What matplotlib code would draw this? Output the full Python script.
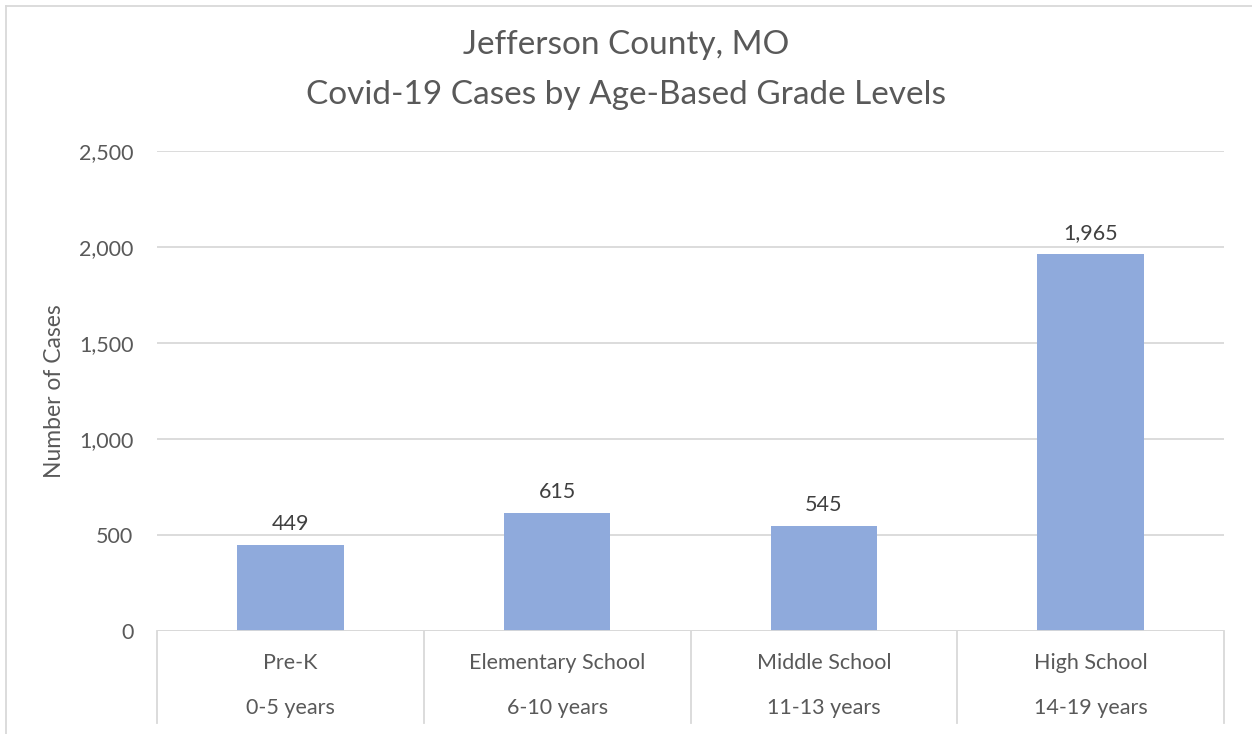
import matplotlib
matplotlib.use("Agg")
import matplotlib.pyplot as plt
import matplotlib.transforms as mtransforms
from matplotlib.lines import Line2D

# data
grades = ["Pre-K", "Elementary School", "Middle School", "High School"]
ages = ["0-5 years", "6-10 years", "11-13 years", "14-19 years"]
cases = [449, 615, 545, 1965]
y_ticks = [0, 500, 1000, 1500, 2000, 2500]

BAR_COLOR = "#8FAADC"
TEXT_COLOR = "#595959"
GRID_COLOR = "#D9D9D9"
FS = 15.5

plt.rcParams["font.family"] = ["Lato", "DejaVu Sans"]

W, H = 1252, 734
fig = plt.figure(figsize=(W / 100, H / 100), dpi=100)
ax = fig.add_axes([157 / W, 1 - 631 / H, (1224 - 157) / W, (631 - 151) / H])

x = list(range(len(grades)))
ax.bar(x, cases, width=0.4, color=BAR_COLOR, zorder=3)
for xi, v in zip(x, cases):
    ax.annotate(f"{v:,}", (xi, v), textcoords="offset points", xytext=(0, 8),
                ha="center", va="bottom", fontsize=FS, color="#404040")

ax.set_xlim(-0.5, len(grades) - 0.5)
ax.set_ylim(0, 2500)
ax.set_yticks(y_ticks)
ax.set_yticklabels([f"{t:,}" for t in y_ticks])
ax.tick_params(axis="y", length=0, pad=17, labelsize=FS, labelcolor=TEXT_COLOR)
ax.set_xticks([])
ax.grid(axis="y", color=GRID_COLOR, linewidth=1.3, zorder=0)
for s in ax.spines.values():
    s.set_visible(False)
ax.axhline(0, color=GRID_COLOR, linewidth=1.3, zorder=4)

ax.set_ylabel("Number of Cases", fontsize=16.5, color=TEXT_COLOR, labelpad=10)

# two-level category axis
trans = mtransforms.blended_transform_factory(ax.transData, ax.transAxes)
for b in [i - 0.5 for i in range(len(grades) + 1)]:
    ax.add_line(Line2D([b, b], [0, -0.192], transform=trans, color=GRID_COLOR,
                       linewidth=1.3, clip_on=False))
for xi, g, a in zip(x, grades, ages):
    ax.text(xi, -0.067, g, transform=trans, ha="center", va="center",
            fontsize=FS, color=TEXT_COLOR)
    ax.text(xi, -0.160, a, transform=trans, ha="center", va="center",
            fontsize=FS, color=TEXT_COLOR)

fig.text(0.5, 1 - 45 / H, "Jefferson County, MO", ha="center", va="center",
         fontsize=24, color=TEXT_COLOR)
fig.text(0.5, 1 - 95 / H, "Covid-19 Cases by Age-Based Grade Levels", ha="center",
         va="center", fontsize=24, color=TEXT_COLOR)

# chart border (only left and top visible in the crop)
fig.add_artist(Line2D([6 / W, 6 / W], [0, 1 - 6 / H], color=GRID_COLOR, linewidth=1.3))
fig.add_artist(Line2D([6 / W, 1], [1 - 6 / H, 1 - 6 / H], color=GRID_COLOR, linewidth=1.3))

fig.savefig("out.png", dpi=100)
